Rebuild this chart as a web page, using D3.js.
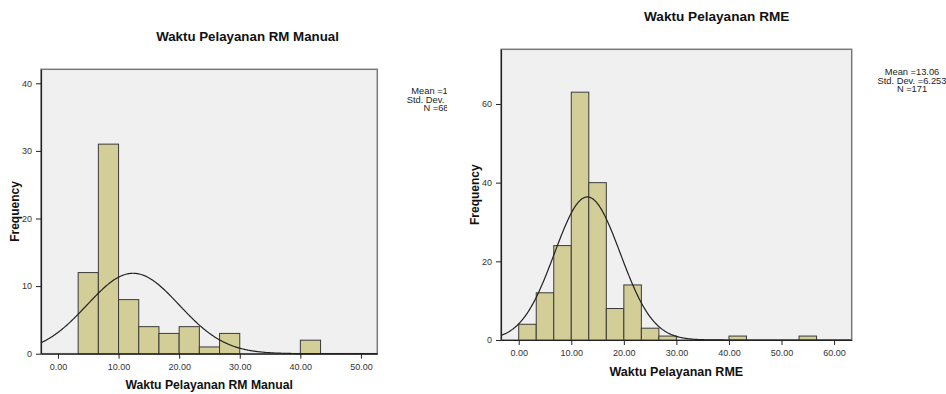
<!DOCTYPE html>
<html>
<head>
<meta charset="utf-8">
<script src="https://cdn.jsdelivr.net/npm/d3@7"></script>
<style>
  body { margin: 0; background: #fff; }
  text { font-family: "Liberation Sans", Arial, sans-serif; }
</style>
</head>
<body>
<div id="chart"></div>
<script>
// histogram data (bin width 10/3)
var binWidth = 10 / 3;

var manualBinStarts = [10/3, 20/3, 10, 40/3, 50/3, 20, 70/3, 80/3, 40];
var manualCounts    = [12,   31,   8,  4,    3,    4,  1,    3,    2];
var manualStats     = { mean: 12.4, sd: 7.6, n: 68 };
var manualXTicks    = [0, 10, 20, 30, 40, 50];
var manualYTicks    = [0, 10, 20, 30, 40];

var rmeBinStarts = [0, 10/3, 20/3, 10, 40/3, 50/3, 20, 70/3, 80/3, 40, 160/3];
var rmeCounts    = [4, 12,   24,   63, 40,   8,    14, 3,    1,    1,  1];
var rmeStats     = { mean: 13.06, sd: 6.253, n: 171 };
var rmeXTicks    = [0, 10, 20, 30, 40, 50, 60];
var rmeYTicks    = [0, 20, 40, 60];

var svg = d3.select("#chart").append("svg")
  .attr("width", 946)
  .attr("height", 394);

svg.append("defs").append("clipPath").attr("id", "leftclip")
  .append("rect").attr("x", 0).attr("y", 0).attr("width", 447).attr("height", 394);

function drawPanel(p) {
  var g = svg.append("g");
  if (p.clip) g.attr("clip-path", "url(#" + p.clip + ")");

  var x = d3.scaleLinear().domain(p.xDomain).range([p.left, p.right]);
  var y = d3.scaleLinear().domain(p.yDomain).range([p.bottom, p.top]);

  // plot frame
  g.append("rect")
    .attr("x", p.left).attr("y", p.top)
    .attr("width", p.right - p.left).attr("height", p.bottom - p.top)
    .attr("fill", "#f0f0f0")
    .attr("stroke", "#7a7a7a")
    .attr("stroke-width", 1.5);

  // bars
  g.selectAll("rect.bar")
    .data(p.starts.map(function(s, i) { return { x0: s, x1: s + binWidth, c: p.counts[i] }; }))
    .enter().append("rect")
      .attr("class", "bar")
      .attr("x", function(d) { return x(d.x0); })
      .attr("y", function(d) { return y(d.c); })
      .attr("width", function(d) { return x(d.x1) - x(d.x0); })
      .attr("height", function(d) { return y(0) - y(d.c); })
      .attr("fill", "#d3ce97")
      .attr("stroke", "#3a3a3a")
      .attr("stroke-width", 1);

  // normal curve
  var s = p.stats;
  var k = s.n * binWidth / (s.sd * Math.sqrt(2 * Math.PI));
  var pts = d3.range(0, 401).map(function(i) {
    var v = p.xDomain[0] + (p.xDomain[1] - p.xDomain[0]) * i / 400;
    return [v, k * Math.exp(-0.5 * Math.pow((v - s.mean) / s.sd, 2))];
  });
  g.append("path")
    .datum(pts)
    .attr("fill", "none")
    .attr("stroke", "#222")
    .attr("stroke-width", 1.2)
    .attr("d", d3.line().x(function(d) { return x(d[0]); }).y(function(d) { return y(d[1]); }));

  // axes
  var xAxis = g.append("g")
    .attr("transform", "translate(0," + p.bottom + ")")
    .call(d3.axisBottom(x).tickValues(p.xTicks).tickFormat(d3.format(".2f")).tickSize(5).tickSizeOuter(0));
  var yAxis = g.append("g")
    .attr("transform", "translate(" + p.left + ",0)")
    .call(d3.axisLeft(y).tickValues(p.yTicks).tickSize(5).tickSizeOuter(0));
  [xAxis, yAxis].forEach(function(a) {
    a.select(".domain").attr("stroke", "#222").attr("stroke-width", 1.2);
    a.selectAll(".tick line").attr("stroke", "#222");
    a.selectAll(".tick text").attr("fill", "#333").style("font-size", "9px")
      .style("font-family", "'Liberation Sans', Arial, sans-serif");
  });
  xAxis.selectAll(".tick text").attr("dy", "0.9em");
  yAxis.selectAll(".tick text").attr("dx", "-0.1em");

  // titles
  g.append("text")
    .attr("x", p.titleX).attr("y", p.titleY)
    .attr("text-anchor", "middle").attr("font-weight", "bold").attr("font-size", p.titleSize)
    .attr("fill", "#111")
    .text(p.title);
  g.append("text")
    .attr("x", (p.left + p.right) / 2).attr("y", p.xLabelY)
    .attr("text-anchor", "middle").attr("font-weight", "bold").attr("font-size", p.xLabelSize)
    .attr("fill", "#111")
    .text(p.xLabel);
  g.append("text")
    .attr("transform", "translate(" + p.yLabelX + "," + ((p.top + p.bottom) / 2) + ") rotate(-90)")
    .attr("text-anchor", "middle").attr("font-weight", "bold").attr("font-size", 12)
    .attr("fill", "#111")
    .text("Frequency");

  // stats legend
  var lines = ["Mean =" + s.mean, "Std. Dev. =" + s.sd, "N =" + s.n];
  g.selectAll("text.stat")
    .data(lines)
    .enter().append("text")
      .attr("class", "stat")
      .attr("x", p.statX)
      .attr("y", function(d, i) { return p.statY + i * 8.6; })
      .attr("text-anchor", "middle")
      .attr("font-size", 9.3)
      .attr("fill", "#222")
      .text(function(d) { return d; });
}

drawPanel({
  clip: "leftclip",
  left: 41, right: 377.3, top: 69.3, bottom: 353.7,
  xDomain: [-2.8, 52.7], yDomain: [0, 42.07],
  starts: manualBinStarts, counts: manualCounts, stats: manualStats,
  xTicks: manualXTicks, yTicks: manualYTicks,
  title: "Waktu Pelayanan RM Manual", titleX: 247.5, titleY: 40.5, titleSize: 13.3,
  xLabel: "Waktu Pelayanan RM Manual", xLabelY: 388.5, xLabelSize: 12.2, yLabelX: 19,
  statX: 436, statY: 94
});

drawPanel({
  left: 501, right: 851.7, top: 49.3, bottom: 340,
  xDomain: [-3.37, 63.35], yDomain: [0, 73.9],
  starts: rmeBinStarts, counts: rmeCounts, stats: rmeStats,
  xTicks: rmeXTicks, yTicks: rmeYTicks,
  title: "Waktu Pelayanan RME", titleX: 716.7, titleY: 20.5, titleSize: 13.6,
  xLabel: "Waktu Pelayanan RME", xLabelY: 375.5, xLabelSize: 12.5, yLabelX: 479,
  statX: 912, statY: 75
});
</script>
</body>
</html>
